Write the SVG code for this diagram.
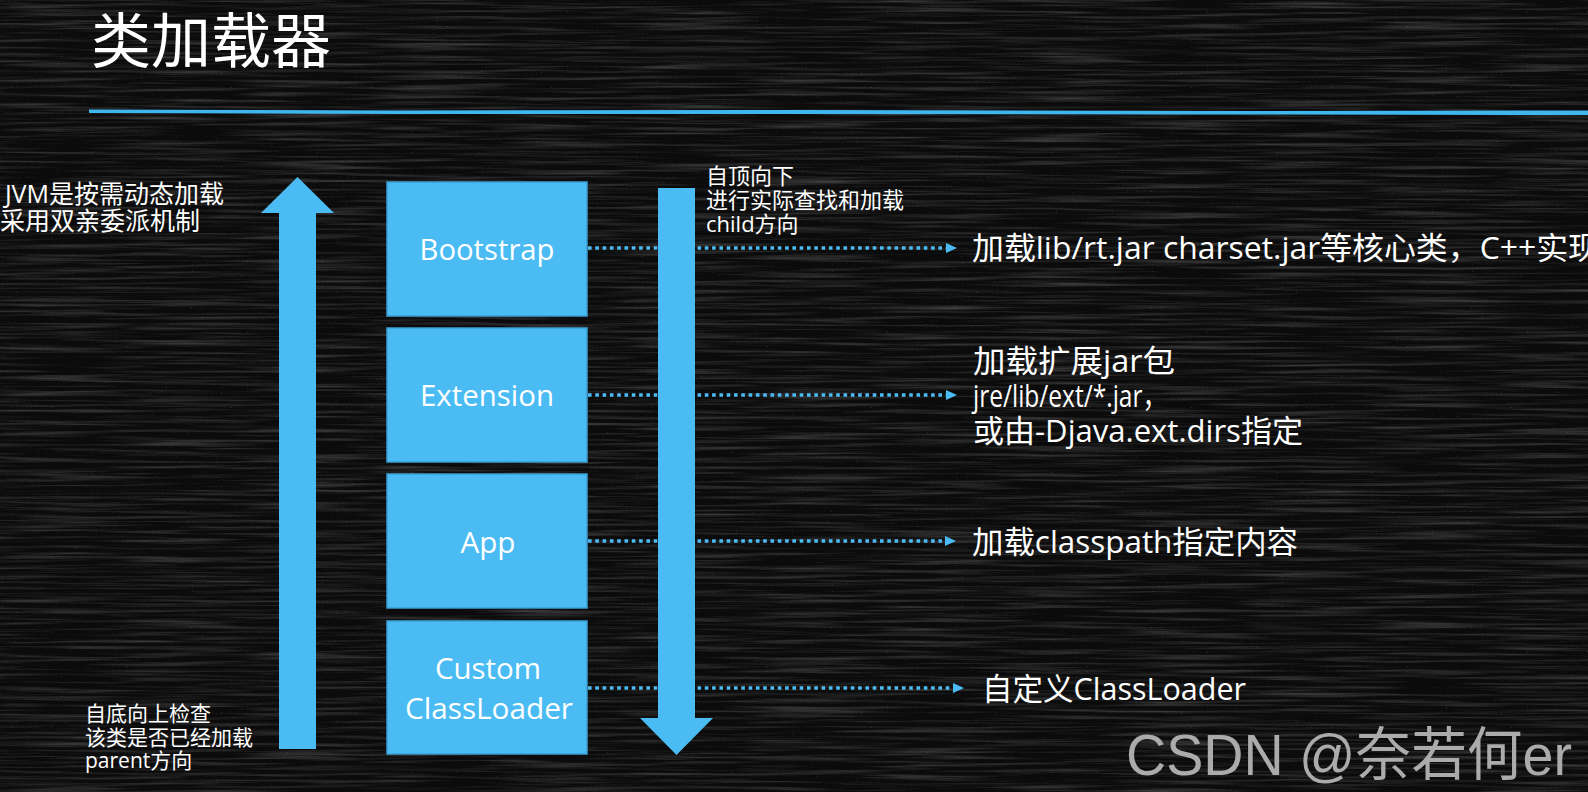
<svg xmlns="http://www.w3.org/2000/svg" width="1588" height="792" viewBox="0 0 1588 792">
  <defs>
    <style>
      .box { fill: #4bbcf3; stroke: #3a9fd6; stroke-width: 1.5; }
      .boxtxt { fill: #ffffff; font-family: "Open Sans", "Noto Sans", "Noto Sans CJK SC", sans-serif; font-size: 30px; text-anchor: middle; }
      .big { fill: #4bbcf3; }
      .dot { fill: none; stroke: #4bbcf3; stroke-width: 3.6; stroke-dasharray: 3.6 3.7; }
      .lbl { fill: #ffffff; font-family: "Open Sans", "Noto Sans CJK SC", sans-serif; }
      .r { font-size: 31px; }
      .title { fill: #ffffff; font-family: "Noto Sans CJK SC", sans-serif; font-size: 60px; }
      .wm { fill: #ababab; font-family: "Liberation Sans", Arial, "Noto Sans CJK SC", sans-serif; font-size: 58px; }
    </style>
    <marker id="ah" markerUnits="userSpaceOnUse" markerWidth="12" markerHeight="12" refX="0" refY="5" orient="auto">
      <path d="M0,0 L11,5 L0,10 z" fill="#4bbcf3"/>
    </marker>
    <filter id="chalk" x="0" y="0" width="100%" height="100%">
      <feTurbulence type="fractalNoise" baseFrequency="0.008 0.3" numOctaves="3" seed="7"/>
      <feColorMatrix type="matrix" values="0 0 0 0 1  0 0 0 0 1  0 0 0 0 1  0.45 0 0 0 -0.2"/>
    </filter>
    <filter id="speck" x="0" y="0" width="100%" height="100%">
      <feTurbulence type="fractalNoise" baseFrequency="0.8" numOctaves="1" seed="2"/>
      <feColorMatrix type="matrix" values="0 0 0 0 1  0 0 0 0 1  0 0 0 0 1  2.2 0 0 0 -1.5"/>
    </filter>
  </defs>

  <!-- background -->
  <rect x="0" y="0" width="1588" height="792" fill="#0b0b0b"/>
  <rect x="0" y="0" width="1588" height="792" filter="url(#chalk)"/>
  <rect x="0" y="0" width="1588" height="792" filter="url(#speck)" opacity="0.4"/>

  <!-- title -->
  <g id="title">
    <text class="title" x="91" y="63">类加载器</text>
    <path d="M89,109.5 L400,110.5 L800,110 L1200,111 L1588,110.5 L1588,115 L1200,114.5 L800,114 L400,114 L89,113 Z" fill="#3fb6ee"/>
  </g>

  <!-- loader boxes -->
  <g id="node-bootstrap">
    <rect class="box" x="387" y="182" width="200" height="134"/>
    <text class="boxtxt" x="487" y="260" textLength="135" lengthAdjust="spacingAndGlyphs">Bootstrap</text>
  </g>
  <g id="node-extension">
    <rect class="box" x="387" y="328" width="200" height="134"/>
    <text class="boxtxt" x="487" y="406" textLength="134" lengthAdjust="spacingAndGlyphs">Extension</text>
  </g>
  <g id="node-app">
    <rect class="box" x="387" y="474" width="200" height="134"/>
    <text class="boxtxt" x="488" y="553" textLength="55" lengthAdjust="spacingAndGlyphs">App</text>
  </g>
  <g id="node-custom">
    <rect class="box" x="387" y="621" width="200" height="133"/>
    <text class="boxtxt" x="488" y="679" textLength="106" lengthAdjust="spacingAndGlyphs">Custom</text>
    <text class="boxtxt" x="489" y="719" textLength="168" lengthAdjust="spacingAndGlyphs">ClassLoader</text>
  </g>

  <!-- dotted connectors -->
  <g id="connectors">
    <line class="dot" x1="588" y1="248" x2="946" y2="248" marker-end="url(#ah)"/>
    <line class="dot" x1="588" y1="395" x2="946" y2="395" marker-end="url(#ah)"/>
    <line class="dot" x1="588" y1="541" x2="945" y2="541" marker-end="url(#ah)"/>
    <line class="dot" x1="588" y1="688" x2="953" y2="688" marker-end="url(#ah)"/>
  </g>

  <!-- big direction arrows -->
  <g id="arrow-up">
    <polygon class="big" points="297.5,177 334,213 316,213 316,749 279,749 279,213 261,213"/>
  </g>
  <g id="arrow-down">
    <polygon class="big" points="658,188 695,188 695,718 713,718 676.5,755 640,718 658,718"/>
  </g>

  <!-- side notes -->
  <g id="note-left-top">
    <text class="lbl" font-size="25" x="224" y="203" text-anchor="end">JVM是按需动态加载</text>
    <text class="lbl" font-size="25" x="0" y="230">采用双亲委派机制</text>
  </g>
  <g id="note-left-bottom">
    <text class="lbl" font-size="21" x="85" y="721">自底向上检查</text>
    <text class="lbl" font-size="21" x="85" y="745">该类是否已经加载</text>
    <text class="lbl" font-size="21" x="85" y="768">parent方向</text>
  </g>
  <g id="note-right-top">
    <text class="lbl" font-size="22" x="706" y="184">自顶向下</text>
    <text class="lbl" font-size="22" x="706" y="208">进行实际查找和加载</text>
    <text class="lbl" font-size="22" x="706" y="232">child方向</text>
  </g>

  <!-- descriptions -->
  <g id="desc-bootstrap">
    <text class="lbl r" x="972" y="259" textLength="628" lengthAdjust="spacingAndGlyphs">加载lib/rt.jar charset.jar等核心类，C++实现</text>
  </g>
  <g id="desc-extension">
    <text class="lbl r" x="973" y="372" textLength="202" lengthAdjust="spacingAndGlyphs">加载扩展jar包</text>
    <text class="lbl r" x="973" y="407" textLength="194" lengthAdjust="spacingAndGlyphs">jre/lib/ext/*.jar，</text>
    <text class="lbl r" x="973" y="442" textLength="330" lengthAdjust="spacingAndGlyphs">或由-Djava.ext.dirs指定</text>
  </g>
  <g id="desc-app">
    <text class="lbl r" x="972" y="553" textLength="326" lengthAdjust="spacingAndGlyphs">加载classpath指定内容</text>
  </g>
  <g id="desc-custom">
    <text class="lbl r" x="982" y="700" textLength="264" lengthAdjust="spacingAndGlyphs">自定义ClassLoader</text>
  </g>

  <!-- watermark -->
  <text class="wm" x="1126" y="775" textLength="446" lengthAdjust="spacingAndGlyphs">CSDN @奈若何er</text>
</svg>
